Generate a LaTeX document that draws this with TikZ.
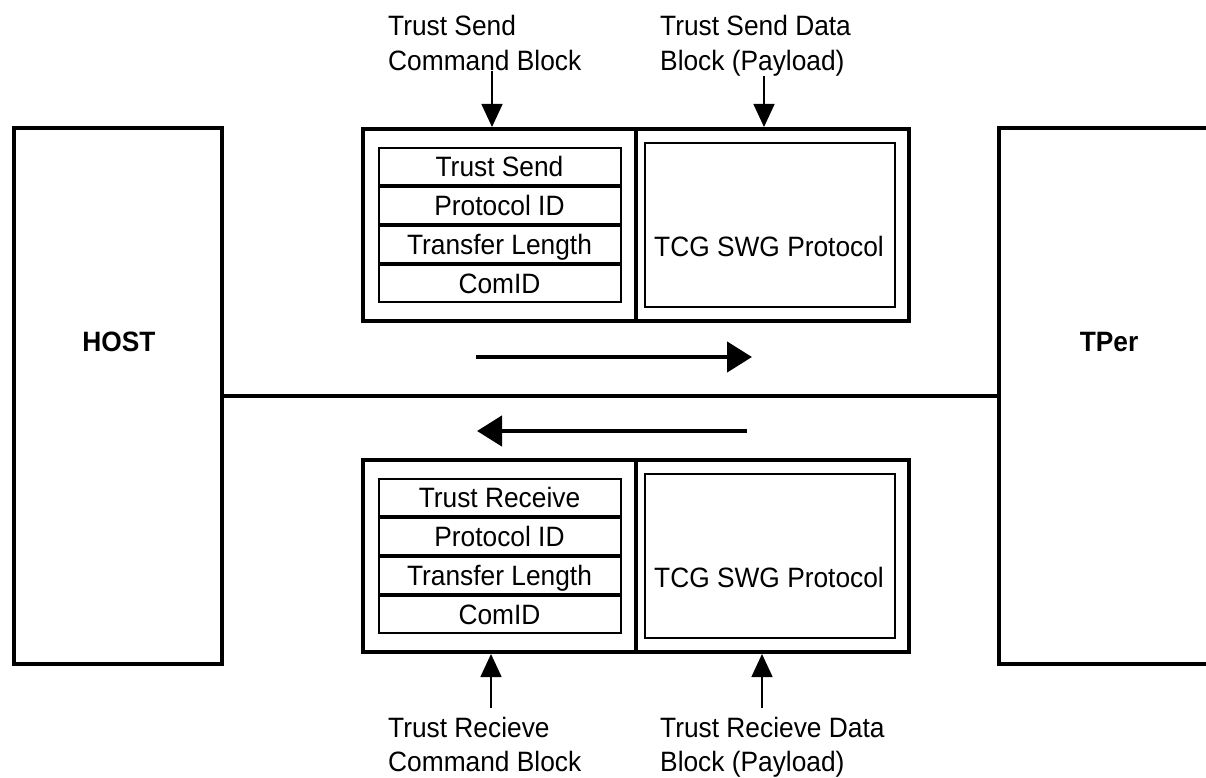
\documentclass[tikz,border=0pt]{standalone}
\usepackage{fontspec}
\setmainfont{Liberation Sans}[FakeStretch=0.94]
\usetikzlibrary{arrows.meta}

\begin{document}
\begin{tikzpicture}[x=1pt,y=-1pt,
  every node/.style={inner sep=0pt, font=\fontsize{28}{35}\selectfont},
  endbox/.style={draw, line width=4pt, minimum width=208pt, minimum height=535pt},
  blockbox/.style={draw, line width=4pt, minimum width=273pt, minimum height=192pt},
  fieldbox/.style={draw, line width=2pt, minimum width=242pt, minimum height=37pt, text height=20pt, text depth=0pt},
  protobox/.style={draw, line width=2pt, minimum width=250pt, minimum height=164pt},
  tagtext/.style={align=left, anchor=north west},
  feedarrow/.style={line width=1.5pt, -{Triangle[length=23pt,width=21pt]}},
  flowarrow/.style={line width=4.5pt, -{Triangle[length=25pt,width=30pt]}}]
\clip (0,0) rectangle (1206,778);
\node[endbox] (host) at (117.5,396) {};
\node[font=\fontsize{28}{35}\selectfont\bfseries] (hostname) at (119,342) {HOST};
\node[endbox, minimum width=218pt] (tper) at (1108,396) {};
\node[font=\fontsize{28}{35}\selectfont\bfseries] (tpername) at (1109,342) {TPer};
\draw[line width=4pt] (host.east) -- (tper.west);

\node[blockbox] (sendcmd) at (499,225) {};
\node[blockbox] (senddata) at (772,225) {};
\node[fieldbox] (sendop) at (499.5,166.3) {Trust Send};
\node[fieldbox] (sendproto) at (499.5,205.4) {Protocol ID};
\node[fieldbox] (sendlen) at (499.5,244.5) {Transfer Length};
\node[fieldbox] (sendcomid) at (499.5,283.6) {ComID};
\node[protobox] (sendpayload) at (769.75,224.75) {};
\node[text height=20pt, text depth=0pt] (sendtcg) at (769,246) {TCG SWG Protocol};
\node[tagtext] (sendcmdtag) at (388,15) {Trust Send\\Command Block};
\node[tagtext] (senddatatag) at (660,15) {Trust Send Data\\Block (Payload)};
\coordinate (sendcmdtip) at ([xshift=-7pt]sendcmd.north);
\coordinate (senddatatip) at ([xshift=-8pt]senddata.north);
\draw[feedarrow] (sendcmdtag.south -| sendcmdtip) -- (sendcmdtip);
\draw[feedarrow] (senddatatag.south -| senddatatip) -- (senddatatip);

\coordinate (sendflowfrom) at (476,357);
\coordinate (sendflowto) at (752,357);
\draw[flowarrow] (sendflowfrom) -- (sendflowto);
\coordinate (recvflowfrom) at (747,431);
\coordinate (recvflowto) at (477,431);
\draw[flowarrow] (recvflowfrom) -- (recvflowto);

\node[blockbox] (recvcmd) at (499,556) {};
\node[blockbox] (recvdata) at (772,556) {};
\node[fieldbox] (recvop) at (499.5,497.3) {Trust Receive};
\node[fieldbox] (recvproto) at (499.5,536.4) {Protocol ID};
\node[fieldbox] (recvlen) at (499.5,575.5) {Transfer Length};
\node[fieldbox] (recvcomid) at (499.5,614.6) {ComID};
\node[protobox] (recvpayload) at (769.75,555.75) {};
\node[text height=20pt, text depth=0pt] (recvtcg) at (769,577) {TCG SWG Protocol};
\node[tagtext, font=\fontsize{28}{34}\selectfont] (recvcmdtag) at (388,717) {Trust Recieve\\Command Block};
\node[tagtext, font=\fontsize{28}{34}\selectfont] (recvdatatag) at (660,717) {Trust Recieve Data\\Block (Payload)};
\coordinate (recvcmdtip) at ([xshift=-8pt]recvcmd.south);
\coordinate (recvdatatip) at ([xshift=-10pt]recvdata.south);
\coordinate (recvcmdfoot) at ([yshift=9pt]recvcmdtag.north);
\coordinate (recvdatafoot) at ([yshift=9pt]recvdatatag.north);
\draw[feedarrow] (recvcmdfoot -| recvcmdtip) -- (recvcmdtip);
\draw[feedarrow] (recvdatafoot -| recvdatatip) -- (recvdatatip);
\end{tikzpicture}
\end{document}
